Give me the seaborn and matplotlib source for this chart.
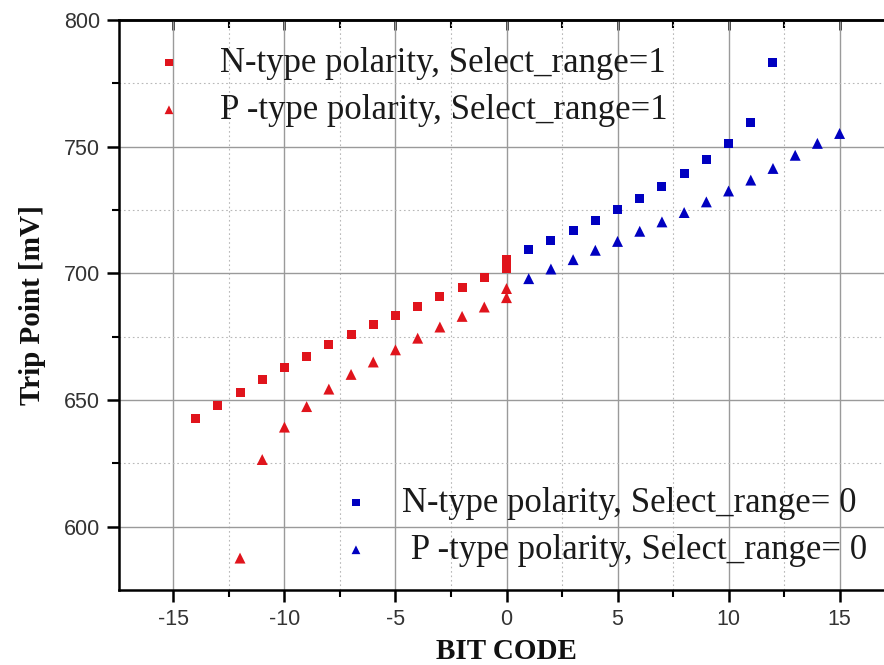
import numpy as np
import pandas as pd
import matplotlib
matplotlib.use("Agg")
import matplotlib.pyplot as plt
from matplotlib.ticker import MultipleLocator
import seaborn as sns

# ---- data ----
n1_code = [-14, -13, -12, -11, -10, -9, -8, -7, -6, -5, -4, -3, -2, -1, 0, 0]
n1_trip = [642.6, 647.8, 653.1, 658.0, 662.7, 667.3, 671.8, 675.8, 679.7, 683.4,
           687.1, 690.9, 694.6, 698.3, 701.8, 705.5]
p1_code = [-12, -11, -10, -9, -8, -7, -6, -5, -4, -3, -2, -1, 0, 0]
p1_trip = [587.6, 626.5, 639.3, 647.4, 654.3, 660.1, 665.0, 669.8, 674.4, 678.8,
           683.0, 686.7, 690.4, 694.0]
n0_code = [1, 2, 3, 4, 5, 6, 7, 8, 9, 10, 11, 12]
n0_trip = [709.4, 713.0, 717.0, 720.9, 725.2, 729.5, 734.4, 739.4, 744.8, 751.3,
           759.7, 783.3]
p0_code = [1, 2, 3, 4, 5, 6, 7, 8, 9, 10, 11, 12, 13, 14, 15]
p0_trip = [697.9, 701.7, 705.4, 709.1, 712.6, 716.6, 720.3, 724.0, 728.2, 732.5,
           736.8, 741.4, 746.6, 751.3, 755.2]

labels = ["N-type polarity, Select_range=1",
          "P -type polarity, Select_range=1",
          "N-type polarity, Select_range= 0",
          " P -type polarity, Select_range= 0"]
x_label = "BIT CODE"
y_label = "Trip Point [mV]"

RED = "#e0141c"
BLUE = "#0000c0"

groups = [(n1_code, n1_trip, labels[0], "s", RED, 42),
          (p1_code, p1_trip, labels[1], "^", RED, 62),
          (n0_code, n0_trip, labels[2], "s", BLUE, 42),
          (p0_code, p0_trip, labels[3], "^", BLUE, 62)]

sns.set_theme(style="ticks")
plt.rcParams["font.family"] = ["Liberation Sans", "DejaVu Sans"]
plt.rcParams["axes.unicode_minus"] = False

fig = plt.figure(figsize=(8.84, 6.65), dpi=100)
ax = fig.add_axes([119 / 884, 1 - 590 / 665, (894 - 119) / 884, (590 - 20) / 665])

for code, trip, lab, mk, col, sz in groups:
    df = pd.DataFrame({"code": code, "trip": trip})
    sns.scatterplot(data=df, x="code", y="trip", marker=mk, color=col, s=sz,
                    edgecolor="none", linewidth=0, label=lab, ax=ax, legend=False)

ax.set_xlim(-17.45, 17.45)
ax.set_ylim(575, 800)
ax.xaxis.set_major_locator(MultipleLocator(5))
ax.xaxis.set_minor_locator(MultipleLocator(2.5))
ax.set_yticks([600, 650, 700, 750, 800])
ax.set_yticks([625, 675, 725, 775], minor=True)

ax.grid(True, which="major", color="#9a9a9a", linewidth=1.0, linestyle="-")
ax.grid(True, which="minor", color="#b8b8b8", linewidth=0.8, linestyle=(0, (1.5, 2.5)))
ax.set_axisbelow(True)

for sp in ax.spines.values():
    sp.set_visible(True)
    sp.set_color("black")
    sp.set_linewidth(1.8)

ax.tick_params(axis="both", which="major", direction="out", length=8.5, width=1.8,
               color="black", labelsize=15.5, labelcolor="#333333", pad=5,
               bottom=True, left=True, top=False, right=False)
ax.tick_params(axis="both", which="minor", direction="out", length=5, width=1.5,
               color="black", bottom=True, left=True, top=False, right=False)

# inward ticks on top and right edges
sec_x = ax.secondary_xaxis("top")
sec_x.xaxis.set_ticks_position("top")
sec_x.xaxis.set_major_locator(MultipleLocator(5))
sec_x.xaxis.set_minor_locator(MultipleLocator(2.5))
sec_x.tick_params(which="major", direction="in", length=7.5, width=1.8, color="black",
                  top=True, labeltop=False)
sec_x.tick_params(which="minor", direction="in", length=5.5, width=1.5, color="black",
                  top=True)
sec_x.spines["top"].set_linewidth(1.8)
sec_x.spines["top"].set_color("black")
sec_y = ax.secondary_yaxis("right")
sec_y.yaxis.set_ticks_position("right")
sec_y.set_yticks([600, 650, 700, 750, 800])
sec_y.set_yticks([625, 675, 725, 775], minor=True)
sec_y.tick_params(which="major", direction="in", length=7.5, width=1.8, color="black",
                  right=True, labelright=False)
sec_y.tick_params(which="minor", direction="in", length=5.5, width=1.5, color="black",
                  right=True)

ax.set_xlabel(x_label, fontsize=21, fontweight="bold", family="Liberation Serif",
              labelpad=6, color="#111111")
ax.set_ylabel(y_label, fontsize=21, fontweight="bold", family="Liberation Serif",
              labelpad=13, color="#111111")

handles, labs = ax.get_legend_handles_labels()
prop = {"family": "Liberation Serif", "size": 25}
leg1 = ax.legend(handles[:2], labs[:2], loc="upper left",
                 bbox_to_anchor=(151.6 / 884, 1 - 47 / 665), bbox_transform=fig.transFigure,
                 frameon=False, prop=prop, handlelength=1.0, handletextpad=0.97,
                 borderpad=0, borderaxespad=0, labelspacing=0.40, markerscale=0.8,
                 labelcolor="#1a1a1a")
ax.add_artist(leg1)
ax.legend(handles[2:], labs[2:], loc="upper left",
          bbox_to_anchor=(338.6 / 884, 1 - 487 / 665), bbox_transform=fig.transFigure,
          frameon=False, prop=prop, handlelength=1.0, handletextpad=0.83,
          borderpad=0, borderaxespad=0, labelspacing=0.40, markerscale=0.8,
          labelcolor="#1a1a1a")

fig.savefig("out.png", dpi=100)
